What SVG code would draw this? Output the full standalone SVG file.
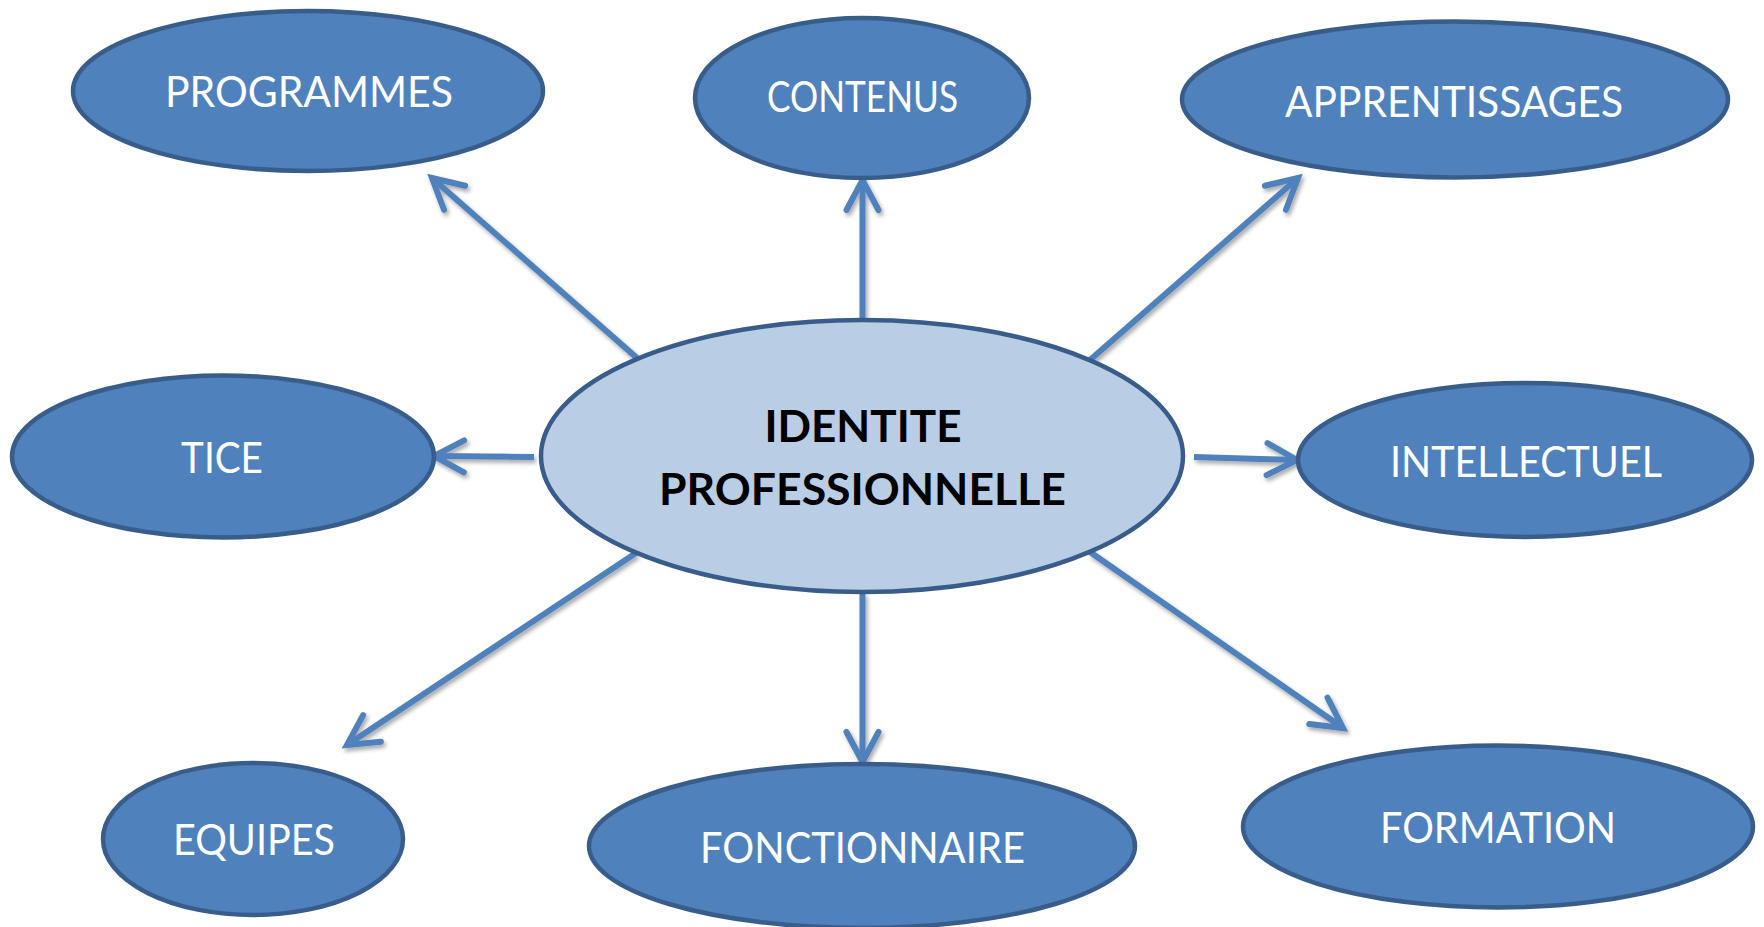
<svg xmlns="http://www.w3.org/2000/svg" width="1764" height="927" viewBox="0 0 1764 927">
<style>
.node{fill:#4F81BD;stroke:#385D8A;stroke-width:4.5}
.center{fill:#B9CDE5;stroke:#385D8A;stroke-width:4.5}
.lbl{font-family:Lato,"Liberation Sans",sans-serif;font-size:42px;fill:#FFFFFF;text-anchor:middle}
.clbl{font-family:Lato,"Liberation Sans",sans-serif;font-size:44px;font-weight:bold;fill:#000000;text-anchor:middle}
.conn line{stroke:#4F81BD;stroke-width:6;fill:none}
</style>
<defs>
<marker id="arr" markerUnits="userSpaceOnUse" markerWidth="60" markerHeight="60" refX="0" refY="0" viewBox="-40 -30 60 60" orient="auto" overflow="visible">
<path d="M-30,-16 L0,0 L-30,16" fill="none" stroke="#4F81BD" stroke-width="6" stroke-linecap="round" stroke-linejoin="miter"/>
</marker>
<filter id="sh" x="-20%" y="-20%" width="140%" height="140%">
<feDropShadow dx="2" dy="3" stdDeviation="2" flood-color="#000" flood-opacity="0.35"/>
</filter>
</defs>
<rect width="1764" height="927" fill="#FFFFFF"/>
<g id="connectors" class="conn" filter="url(#sh)">
<line x1="637" y1="358" x2="432" y2="178" marker-end="url(#arr)"/>
<line x1="862.5" y1="320" x2="862.5" y2="180" marker-end="url(#arr)"/>
<line x1="1090" y1="360" x2="1298" y2="178" marker-end="url(#arr)"/>
<line x1="534" y1="457" x2="434" y2="456" marker-end="url(#arr)"/>
<line x1="1194" y1="457" x2="1297" y2="460" marker-end="url(#arr)"/>
<line x1="636" y1="553" x2="347" y2="745" marker-end="url(#arr)"/>
<line x1="862.5" y1="593" x2="862.5" y2="762" marker-end="url(#arr)"/>
<line x1="1090" y1="552" x2="1343" y2="728" marker-end="url(#arr)"/>
</g>
<g id="node-identite">
<ellipse class="center" cx="862" cy="456" rx="321" ry="136"/>
<text class="clbl" x="863" y="442" textLength="197" lengthAdjust="spacingAndGlyphs">IDENTITE</text>
<text class="clbl" x="862.5" y="505" textLength="407" lengthAdjust="spacingAndGlyphs">PROFESSIONNELLE</text>
</g>
<g id="node-programmes">
<ellipse class="node" cx="308" cy="91" rx="235" ry="80"/>
<text class="lbl" x="309" y="107" textLength="288" lengthAdjust="spacingAndGlyphs">PROGRAMMES</text>
</g>
<g id="node-contenus">
<ellipse class="node" cx="862" cy="98" rx="167" ry="80"/>
<text class="lbl" x="862.5" y="112" textLength="191" lengthAdjust="spacingAndGlyphs">CONTENUS</text>
</g>
<g id="node-apprentissages">
<ellipse class="node" cx="1455" cy="99.5" rx="273" ry="78"/>
<text class="lbl" x="1454" y="117" textLength="338" lengthAdjust="spacingAndGlyphs">APPRENTISSAGES</text>
</g>
<g id="node-tice">
<ellipse class="node" cx="223" cy="456.5" rx="211" ry="81"/>
<text class="lbl" x="222" y="473" textLength="82" lengthAdjust="spacingAndGlyphs">TICE</text>
</g>
<g id="node-intellectuel">
<ellipse class="node" cx="1525" cy="460" rx="227" ry="77"/>
<text class="lbl" x="1526" y="477" textLength="272" lengthAdjust="spacingAndGlyphs">INTELLECTUEL</text>
</g>
<g id="node-equipes">
<ellipse class="node" cx="253" cy="839" rx="150" ry="76"/>
<text class="lbl" x="254" y="855" textLength="162" lengthAdjust="spacingAndGlyphs">EQUIPES</text>
</g>
<g id="node-fonctionnaire">
<ellipse class="node" cx="862" cy="846" rx="273" ry="82"/>
<text class="lbl" x="862.5" y="863" textLength="325" lengthAdjust="spacingAndGlyphs">FONCTIONNAIRE</text>
</g>
<g id="node-formation">
<ellipse class="node" cx="1498" cy="826.5" rx="255" ry="81"/>
<text class="lbl" x="1498" y="843" textLength="236" lengthAdjust="spacingAndGlyphs">FORMATION</text>
</g>
</svg>
